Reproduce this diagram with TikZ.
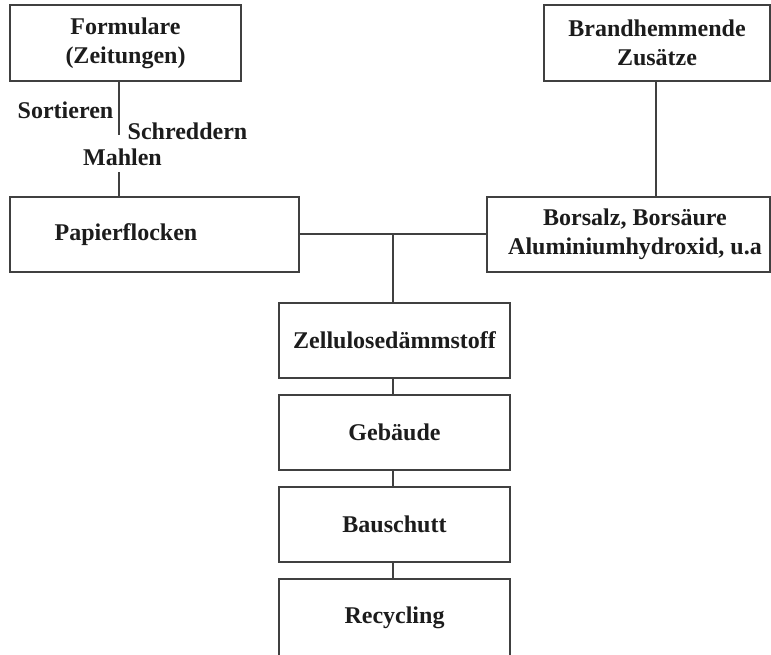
\documentclass[tikz,border=0pt]{standalone}
\usepackage{fontspec}
\setmainfont{Liberation Serif}
\definecolor{lc}{HTML}{404040}
\definecolor{tc}{HTML}{1C1C1C}
\begin{document}
\begin{tikzpicture}[x=1pt,y=-1pt,
  box/.style={draw=lc, line width=1.3pt, inner sep=0pt, outer sep=0pt, text=tc,
    font=\bfseries\fontsize{24}{29}\selectfont, align=center},
  txt/.style={text=tc, font=\bfseries\fontsize{24}{29}\selectfont, align=center, inner sep=0pt},
  ln/.style={draw=lc, line width=1.3pt}]
\useasboundingbox (0,0) rectangle (771,654);
% top boxes
\node[box, minimum width=231pt, minimum height=76pt] (form) at (125.5,43) {Formulare\\(Zeitungen)};
\node[box, minimum width=226pt, minimum height=76pt] (brand) at (657,43) {Brandhemmende\\Zusätze};
% middle boxes
\node[box, minimum width=289pt, minimum height=75pt] (papier) at (154.5,234.5) {};
\node[txt] (papiert) at (126,235) {Papierflocken};
\node[box, minimum width=283pt, minimum height=75pt] (bor) at (628.5,234.5) {};
\node[txt] (bort) at (635,234) {Borsalz, Borsäure\\Aluminiumhydroxid, u.a};
% lower chain
\node[box, minimum width=231pt, minimum height=75pt] (zell) at (394.5,340.5) {Zellulosedämmstoff};
\node[box, minimum width=231pt, minimum height=75pt] (geb) at (394.5,432.5) {Gebäude};
\node[box, minimum width=231pt, minimum height=75pt] (bau) at (394.5,524.5) {Bauschutt};
\node[box, minimum width=231pt, minimum height=84pt] (rec) at (394.5,621) {};
\node[txt] (rect) at (394.5,618) {Recycling};
% process labels
\node[txt] (sort) at (65.5,110) {Sortieren};
\node[txt] (schr) at (187.5,131) {Schreddern};
\node[txt] (mahl) at (122.5,157) {Mahlen};
% connectors
\coordinate (s1) at (119,135);
\coordinate (s2) at (119,172);
\draw[ln] (form.south -| s1) -- (s1);
\draw[ln] (s2) -- (s2 |- papier.north);
\coordinate (bx) at (656,0);
\draw[ln] (brand.south -| bx) -- (bor.north -| bx);
\coordinate (j) at (393,234);
\draw[ln] (papier.east |- j) -- (bor.west |- j);
\draw[ln] (j) -- (j |- zell.north);
\coordinate (cx) at (393,0);
\draw[ln] (zell.south -| cx) -- (geb.north -| cx);
\draw[ln] (geb.south -| cx) -- (bau.north -| cx);
\draw[ln] (bau.south -| cx) -- (rec.north -| cx);
\end{tikzpicture}
\end{document}
